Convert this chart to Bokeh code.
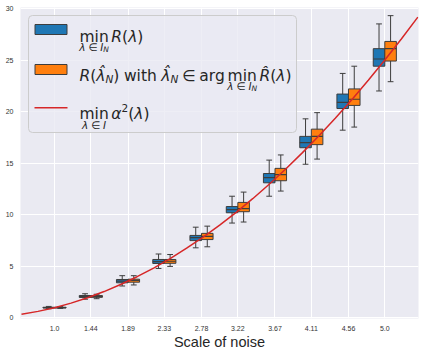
from bokeh.plotting import figure
from bokeh.models import ColumnDataSource, FixedTicker, Label, BoxAnnotation
from bokeh.transform import dodge
from bokeh.embed import file_html
from bokeh.resources import INLINE

# ---------------- data ----------------
noise_scales = [1.0, 1.44, 1.89, 2.33, 2.78, 3.22, 3.67, 4.11, 4.56, 5.0]
tick_labels = ["1.0", "1.44", "1.89", "2.33", "2.78", "3.22", "3.67", "4.11", "4.56", "5.0"]
y_ticks = [0, 5, 10, 15, 20, 25, 30]

# min_{lambda in I_N} R(lambda)  (blue)
blue_lo = [0.90, 1.82, 3.10, 4.80, 6.80, 9.20, 11.80, 14.90, 18.20, 22.00]
blue_q1 = [0.97, 1.99, 3.41, 5.28, 7.50, 10.20, 13.10, 16.50, 20.30, 24.40]
blue_med = [1.00, 2.08, 3.58, 5.47, 7.78, 10.50, 13.60, 17.00, 20.90, 25.10]
blue_q3 = [1.04, 2.18, 3.73, 5.67, 8.00, 10.80, 14.00, 17.60, 21.70, 26.10]
blue_hi = [1.12, 2.35, 4.10, 6.20, 8.80, 11.80, 15.30, 19.30, 23.70, 28.50]

# R(hat lambda_N)  (orange)
orange_lo = [0.93, 1.87, 3.20, 5.00, 6.90, 9.30, 12.30, 15.40, 18.50, 22.90]
orange_q1 = [0.97, 2.00, 3.47, 5.30, 7.60, 10.30, 13.30, 16.80, 20.60, 24.90]
orange_med = [1.00, 2.10, 3.65, 5.50, 7.90, 10.60, 13.90, 17.60, 21.20, 26.10]
orange_q3 = [1.04, 2.17, 3.76, 5.67, 8.20, 11.20, 14.50, 18.30, 22.20, 26.80]
orange_hi = [1.10, 2.30, 4.10, 6.15, 8.90, 12.20, 15.80, 19.90, 24.40, 29.30]

# min alpha^2(lambda)  (red curve)
curve_x = [0.6, 0.8, 1.0, 1.2, 1.4, 1.6, 1.8, 2.0, 2.2, 2.4, 2.6, 2.8, 3.0,
           3.2, 3.4, 3.6, 3.8, 4.0, 4.2, 4.4, 4.6, 4.8, 5.0, 5.2, 5.4]
curve_y = [0.36, 0.64, 1.0, 1.44, 1.96, 2.56, 3.24, 4.0, 4.84, 5.76, 6.76, 7.84, 9.0,
           10.24, 11.56, 12.96, 14.44, 16.0, 17.64, 19.36, 21.16, 23.04, 25.0, 27.04, 29.16]

# ---------------- style / geometry ----------------
BLUE = "#1f77b4"
ORANGE = "#ff7f0e"
RED = "#d62728"
EDGE = "#3d3d3d"
TXT = "#262626"
BG = "#EAEAF2"
BOX_W = 0.14
X0, X1 = 0.588, 5.408
Y0, Y1 = -0.05, 30.09
FW, FH = 398, 311
FL, FT = 20, 7  # frame left / top in page pixels

p = figure(frame_width=FW, frame_height=FH, x_range=(X0, X1), y_range=(Y0, Y1),
           output_backend="svg", toolbar_location=None,
           min_border_left=FL, min_border_right=4, min_border_top=FT, min_border_bottom=0,
           background_fill_color=BG, border_fill_color="white", outline_line_color=None)

p.grid.grid_line_color = "white"
p.grid.grid_line_width = 1

p.xaxis.ticker = FixedTicker(ticks=noise_scales)
p.xaxis.major_label_overrides = {v: s for v, s in zip(noise_scales, tick_labels)}
p.yaxis.ticker = FixedTicker(ticks=y_ticks)
for ax in (p.xaxis[0], p.yaxis[0]):
    ax.axis_line_color = None
    ax.major_tick_line_color = None
    ax.minor_tick_line_color = None
    ax.major_tick_out = 0
    ax.major_tick_in = 0
    ax.major_label_text_font = "Liberation Sans"
    ax.major_label_text_font_size = "7px"
    ax.major_label_text_color = "#333333"
p.xaxis.major_label_standoff = 7
p.yaxis.major_label_standoff = 7
p.xaxis.axis_label = "Scale of noise"
p.xaxis.axis_label_text_font = "Liberation Sans"
p.xaxis.axis_label_text_font_size = "14.5px"
p.xaxis.axis_label_text_font_style = "normal"
p.xaxis.axis_label_text_color = TXT
p.xaxis.axis_label_standoff = 0


def draw_boxes(src, off, color):
    p.segment(x0=dodge("x", off), x1=dodge("x", off), y0="lo", y1="hi", source=src,
              line_color=EDGE, line_width=1)
    for f in ("lo", "hi"):
        p.segment(x0=dodge("x", off - BOX_W / 4), x1=dodge("x", off + BOX_W / 4), y0=f, y1=f,
                  source=src, line_color=EDGE, line_width=1)
    p.vbar(x=dodge("x", off), width=BOX_W, bottom="q1", top="q3", source=src,
           fill_color=color, line_color=EDGE, line_width=1)
    p.segment(x0=dodge("x", off - BOX_W / 2), x1=dodge("x", off + BOX_W / 2), y0="med", y1="med",
              source=src, line_color=EDGE, line_width=1.2)


blue_src = ColumnDataSource(dict(x=noise_scales, lo=blue_lo, q1=blue_q1, med=blue_med, q3=blue_q3, hi=blue_hi))
orange_src = ColumnDataSource(dict(x=noise_scales, lo=orange_lo, q1=orange_q1, med=orange_med, q3=orange_q3, hi=orange_hi))
draw_boxes(blue_src, -BOX_W / 2, BLUE)
draw_boxes(orange_src, BOX_W / 2, ORANGE)

p.line(curve_x, curve_y, line_color=RED, line_width=1.5)


# ---------------- hand-made legend (page pixel positions) ----------------
def px2d(px, py):
    return (X0 + (px - FL) / FW * (X1 - X0), Y1 - (py - FT) / FH * (Y1 - Y0))


def box_px(l, t, r, b, **kw):
    x_l, y_t = px2d(l, t)
    x_r, y_b = px2d(r, b)
    p.add_layout(BoxAnnotation(left=x_l, right=x_r, top=y_t, bottom=y_b, **kw))


box_px(28, 15, 296, 132, fill_color=BG, fill_alpha=0.8, line_color="#CCCCCC",
       line_alpha=1, line_width=1, border_radius=4)
box_px(34.5, 24, 66.5, 34, fill_color=BLUE, fill_alpha=1, line_color=EDGE, line_alpha=1, line_width=1)
box_px(34.5, 64, 66.5, 74, fill_color=ORANGE, fill_alpha=1, line_color=EDGE, line_alpha=1, line_width=1)
box_px(34, 106.5, 67, 108.1, fill_color=RED, fill_alpha=1, line_color=None)

EM = {"R": 0.695, "(": 0.390, ")": 0.390, "λ": 0.592, "N": 0.748, "I": 0.295,
      "a": 0.613, "g": 0.635, "h": 0.634, "i": 0.278, "m": 0.974, "n": 0.634,
      "r": 0.411, "t": 0.392, "w": 0.818, "α": 0.66, "∈": 0.838, "2": 0.636,
      "\u0302": 0.0}
M, S, SS = 15.5, 10.5, 7.5
SB = 10.5  # size of the text set under "min"


def twidth(text, size):
    return sum(EM.get(c, 0.6) for c in text) * size


def put(text, x, y, size, italic):
    dx, dy = px2d(x, y)
    p.add_layout(Label(x=dx, y=dy, text=text, text_font="DejaVu Sans",
                       text_font_size=f"{size}px",
                       text_font_style="italic" if italic else "normal",
                       text_color=TXT, text_baseline="alphabetic", text_align="left"))


def row(items, x0, base):
    x = x0
    marks = {}
    for it in items:
        if isinstance(it, (int, float)):
            x += it
            continue
        text, size, italic, dy = it[:4]
        w = twidth(text, size)
        if len(it) > 4:
            marks[it[4]] = (x, w)
        put(text, x, base + dy, size, italic)
        x += w
    return marks


def under(items, center, base):
    total = sum(it if isinstance(it, (int, float)) else twidth(it[0], it[1]) for it in items)
    row(items, center - total / 2, base)


sub_IN = [("λ", SB, True, 0), 3.0, ("∈", SB, False, 0), 3.0, ("I", SB, True, 0), ("N", SS, True, 2)]
sub_I = [("λ", SB, True, 0), 3.0, ("∈", SB, False, 0), 3.0, ("I", SB, True, 0)]

# line 1
mk = row([("min", M, False, 0, "min"), 2.6, ("R", M, True, 0), ("(", M, False, 0),
          ("λ", M, True, 0), (")", M, False, 0)], 79, 36)
under(sub_IN, mk["min"][0] + mk["min"][1] / 2, 46.5)

# line 2
mk = row([("R", M, True, 0), ("(", M, False, 0), ("λ\u0302", M, True, 0), ("N", S, True, 3),
          (")", M, False, 0), 4.5, ("with", M, False, 0), 4.5, ("λ\u0302", M, True, 0),
          ("N", S, True, 3), 4, ("∈", M, False, 0), 4, ("arg", M, False, 0), 2.6,
          ("min", M, False, 0, "min"), 2.6, ("R\u0302", M, True, 0), ("(", M, False, 0),
          ("λ", M, True, 0), (")", M, False, 0)], 79, 75)
under(sub_IN, mk["min"][0] + mk["min"][1] / 2, 85.5)

# line 3
mk = row([("min", M, False, 0, "min"), 2.6, ("α", M, True, 0), ("2", S, False, -6),
          ("(", M, False, 0), ("λ", M, True, 0), (")", M, False, 0)], 79, 113.5)
under(sub_I, mk["min"][0] + mk["min"][1] / 2, 124)

open("out.html", "w").write(file_html(p, INLINE))
